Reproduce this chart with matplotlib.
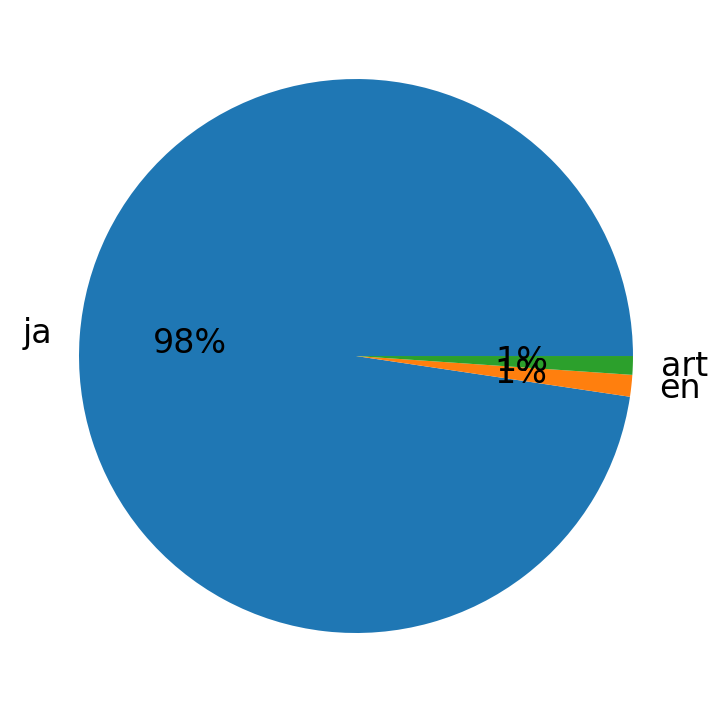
import matplotlib
matplotlib.use("Agg")
from matplotlib import pyplot as plt

labels = ["ja", "en", "art"]
counts = [1080, 14, 12]
colors = ["#1f77b4", "#ff7f0e", "#2ca02c"]

fig = plt.figure(figsize=(7.2, 7.13), dpi=100)
ax = fig.add_axes([0.01354, 0.01508, 0.9618, 0.9712])
ax.pie(counts, labels=labels, colors=colors, autopct="%1.0f%%",
       textprops={"fontsize": 24})
ax.set_xlim(-1.25, 1.25)
ax.set_ylim(-1.25, 1.25)

fig.savefig("out.png", dpi=100)
